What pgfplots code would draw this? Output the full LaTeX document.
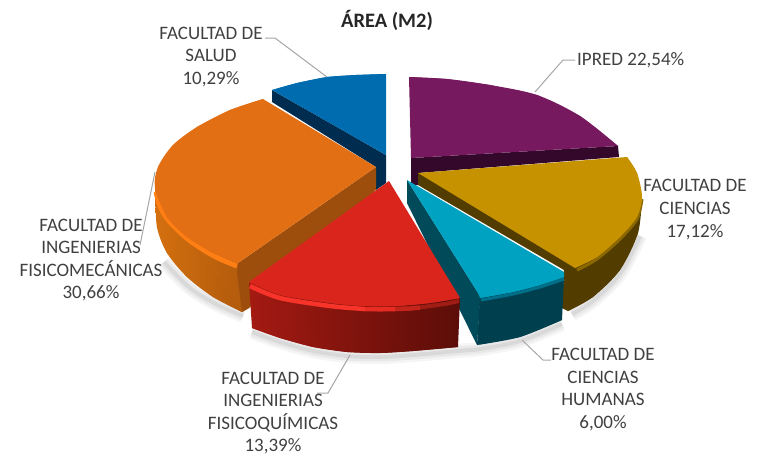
\documentclass[border=0pt]{standalone}
\usepackage{pgfplots}
\pgfplotsset{compat=1.18}
\usepackage{fontspec}
\setmainfont{Carlito}
\definecolor{txt}{HTML}{404040}
\definecolor{lead}{HTML}{A6A6A6}
\definecolor{bluet}{HTML}{006CB0}
\definecolor{blued}{HTML}{002D4F}
\definecolor{oranget}{HTML}{E26F13}
\definecolor{oranges}{HTML}{9E4E0C}
\definecolor{orangel}{HTML}{D4700F}
\definecolor{oranger}{HTML}{B05A0C}
\definecolor{orangeh}{HTML}{FF7F15}
\definecolor{redt}{HTML}{D9251C}
\definecolor{redl}{HTML}{A31A12}
\definecolor{redr}{HTML}{5C0D08}
\definecolor{redh}{HTML}{F8332A}
\definecolor{redha}{HTML}{E62C23}
\definecolor{redhb}{HTML}{C5241B}
\definecolor{redm}{HTML}{A01D15}
\definecolor{tealt}{HTML}{00A2C1}
\definecolor{teald}{HTML}{004A5A}
\definecolor{tealo}{HTML}{003F4E}
\definecolor{tealm}{HTML}{00708A}
\definecolor{goldt}{HTML}{C69200}
\definecolor{goldd}{HTML}{523C00}
\definecolor{goldm}{HTML}{8C6800}
\definecolor{purt}{HTML}{77195F}
\definecolor{purd}{HTML}{33082A}
\tikzset{lbl/.style={text=txt,align=center,inner sep=0pt,font=\fontsize{19}{22.6}\selectfont}}
\pgfplotsset{leader/.style={draw=lead,line width=1pt}}
\begin{document}
\begin{tikzpicture}
\useasboundingbox (0,0) rectangle (757pt,456pt);
\begin{axis}[
  at={(0,0)},anchor=south west,
  scale only axis,width=757pt,height=456pt,
  xmin=0,xmax=757,ymin=0,ymax=456,y dir=reverse,
  hide axis,clip=false]
% soft shadows
\foreach \w/\o in {14/0.04,9/0.05,4/0.07}{
  \edef\tmp{\noexpand\addplot[smooth,draw=black,opacity=\o,line width=\w pt] coordinates {(164,262)(190,288)(216,304)(243,316)};}\tmp
  \edef\tmp{\noexpand\addplot[smooth,draw=black,opacity=\o,line width=\w pt] coordinates {(252,332)(280,342)(313,351)(347,356)(380,357)(413,355)(458,351)(480,349)(520,341)(562,324)};}\tmp
  \edef\tmp{\noexpand\addplot[smooth,draw=black,opacity=\o,line width=\w pt] coordinates {(572,314)(593,301)(620,274)(640,236)};}\tmp
}
% blue
\addplot[draw=none,fill=blued] coordinates {(272,90)(272,102)(376,167)(376,190)(386,183)(386,155)};
\addplot[draw=none,fill=bluet] coordinates {(386,155)(272,90)(297,83)(327,77)(356,75)(386,74)};
\addplot[smooth,draw=none,fill=bluet] coordinates {(272,90)(297,83)(327,77)(356,75)(386,74)};
% orange sides
\addplot[draw=none,left color=orangel,right color=oranger] coordinates {(155,188)(157,227)(167,253)(187,277)(213,297)(242,312)(249,308)(249,280)(238,263)};
\addplot[smooth,draw=none,left color=orangel,right color=oranger] coordinates {(155,188)(157,227)(167,253)(187,277)(213,297)(242,312)};
\addplot[smooth,draw=orangeh,line width=5pt] coordinates {(156,192)(160,206)(169,221)(189,240)(214,256)(237,266)};
\addplot[draw=none,fill=oranges] coordinates {(376,167)(238,263)(237,272)(242,312)(249,308)(376,190)};
\addplot[draw=none,fill=oranget] coordinates {(263,99)(376,167)(238,263)(213,253)(187,237)(167,217)(155,188)(158,167)(173,145)(197,127)(230,110)};
\addplot[smooth,draw=none,fill=oranget] coordinates {(238,263)(213,253)(187,237)(167,217)(155,188)(158,167)(173,145)(197,127)(230,110)(263,99)};
% purple
\addplot[draw=none,fill=purd] coordinates {(618,146)(619,157)(418,173)(418,185)(411,185)(411,158)};
\addplot[draw=none,fill=purt] coordinates {(409,77)(447,79)(490,85)(537,95)(580,116)(618,146)(411,158)};
\addplot[smooth,draw=none,fill=purt] coordinates {(409,77)(447,79)(490,85)(537,95)(580,116)(618,146)};
% gold
\addplot[smooth,draw=none,fill=goldd] coordinates {(642,197)(638,233)(620,270)(593,297)(568,311)};
\addplot[draw=none,fill=goldd] coordinates {(642,197)(638,233)(620,270)(593,297)(568,311)(562,308)(564,270)(418,185)(418,173)};
\addplot[smooth,draw=goldm,line width=3pt] coordinates {(642,199)(637,219)(620,239)(597,259)(577,270)};
\addplot[draw=none,fill=goldt] coordinates {(418,173)(627,157)(637,173)(642,197)(637,217)(620,237)(597,257)(575,268)};
\addplot[smooth,draw=none,fill=goldt] coordinates {(627,157)(637,173)(642,197)(637,217)(620,237)(597,257)(575,268)};
% teal
\addplot[draw=none,fill=teald] coordinates {(407,180)(407,203)(477,345)(480,303)(480,296)};
\addplot[draw=none,fill=tealo] coordinates {(480,296)(477,345)(520,337)(562,320)(564,277)};
\addplot[smooth,draw=none,fill=tealo] coordinates {(477,345)(520,337)(562,320)};
\addplot[smooth,draw=tealm,line width=3pt] coordinates {(564,279)(540,287)(513,294)(481,300)};
\addplot[draw=none,fill=tealt] coordinates {(407,180)(564,272)(564,277)(540,285)(513,292)(480,298)(478,293)};
\addplot[smooth,draw=none,fill=tealt] coordinates {(564,277)(540,285)(513,292)(480,298)};
% red
\addplot[draw=none,left color=redl,right color=redr] coordinates {(249,283)(252,328)(280,338)(313,347)(347,352)(380,353)(413,351)(458,347)(460,298)};
\addplot[smooth,draw=none,left color=redl,right color=redr] coordinates {(252,328)(280,338)(313,347)(347,352)(380,353)(413,351)(458,347)};
\addplot[draw=redm,line width=4pt] coordinates {(420,307.5)(430,306)(445,304)(459,301)};
\addplot[draw=redhb,line width=4.5pt] coordinates {(395,309)(410,308.5)(420,307.5)};
\addplot[draw=redha,line width=4.5pt] coordinates {(365,309)(380,309.3)(395,309)};
\addplot[smooth,draw=redh,line width=4.5pt] coordinates {(250,286)(280,298)(330,306)(365,309)};
\addplot[draw=none,fill=redt] coordinates {(389,181)(460,298)(430,303)(397,306)(363,306)(330,303)(280,295)(249,282)};
\addplot[smooth,draw=none,fill=redt] coordinates {(460,298)(430,303)(397,306)(363,306)(330,303)(280,295)(249,282)};
% leaders
\addplot[leader] coordinates {(265,38)(275,38)(327,77)};
\addplot[leader] coordinates {(575,60)(563,60)(535,92)};
\addplot[leader] coordinates {(522,340)(543,360)(551,360)};
\addplot[leader] coordinates {(350,355)(328,393)(317,393)};
\addplot[leader] coordinates {(155,172)(140,245)};
% text
\node[lbl,font=\fontsize{20.5}{22}\selectfont\bfseries,text=black!85] at (axis cs:387,20) {ÁREA (M2)};
\node[lbl] at (axis cs:211,57) {FACULTAD DE\\SALUD\\10,29\%};
\node[lbl,anchor=west] at (axis cs:577,60) {IPRED 22,54\%};
\node[lbl] at (axis cs:695,209.5) {FACULTAD DE\\CIENCIAS\\17,12\%};
\node[lbl] at (axis cs:603,389.5) {FACULTAD DE\\CIENCIAS\\HUMANAS\\6,00\%};
\node[lbl] at (axis cs:273,413) {FACULTAD DE\\INGENIERIAS\\FISICOQUÍMICAS\\13,39\%};
\node[lbl] at (axis cs:91,260) {FACULTAD DE\\INGENIERIAS\\FISICOMECÁNICAS\\30,66\%};
\end{axis}
\end{tikzpicture}
\end{document}
